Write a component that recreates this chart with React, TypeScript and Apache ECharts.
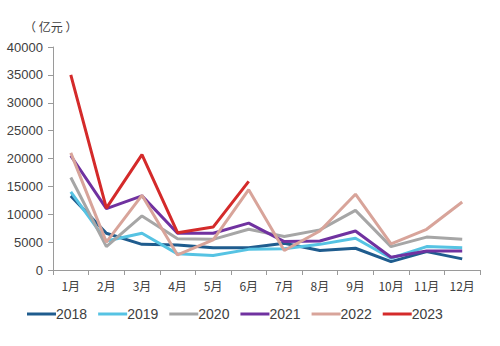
import React, { useEffect, useRef } from "react";
import * as echarts from "echarts";

const months = ["1月", "2月", "3月", "4月", "5月", "6月", "7月", "8月", "9月", "10月", "11月", "12月"];
const yLabelUnit = "（ 亿元 ）";

const s2018 = [13300, 6600, 4600, 4500, 4000, 4000, 4800, 3500, 3900, 1500, 3300, 2000];
const s2019 = [14000, 5200, 6600, 2900, 2600, 3700, 3800, 4600, 5700, 2100, 4200, 4000];
const s2020 = [16600, 4200, 9700, 5600, 5500, 7300, 6000, 7200, 10700, 4200, 5900, 5500];
const s2021 = [20500, 11000, 13300, 6600, 6600, 8400, 5100, 5200, 7000, 2300, 3400, 3400];
const s2022 = [21000, 5000, 13400, 2700, 5400, 14400, 3500, 7000, 13600, 4700, 7300, 12200];
const s2023 = [35000, 11100, 20700, 6700, 7700, 15900];

const seriesNames = ["2018", "2019", "2020", "2021", "2022", "2023"];
const seriesData = [s2018, s2019, s2020, s2021, s2022, s2023];
const colors = ["#1F5C8E", "#56C3E3", "#A6A6A6", "#7032A0", "#D8A49A", "#D42A2A"];

export default function App() {
  const ref = useRef<HTMLDivElement>(null);
  useEffect(() => {
    const chart = echarts.init(ref.current!, null, { renderer: "svg" });
    chart.setOption({
      animation: false,
      backgroundColor: "#ffffff",
      textStyle: { fontFamily: "Liberation Sans, Arial, sans-serif" },
      graphic: [
        {
          type: "text",
          left: 24,
          top: 20,
          style: { text: yLabelUnit, fontSize: 12, fill: "#404040", fontFamily: "Noto Sans CJK SC" },
        },
      ],
      grid: { left: 53, right: 20, top: 47, bottom: 76, containLabel: false },
      legend: {
        top: 302,
        left: 22,
        icon: "rect",
        itemWidth: 29,
        itemHeight: 3,
        itemGap: 11,
        textStyle: { fontSize: 14, color: "#404040", padding: [0, 0, 0, -5] },
        data: seriesNames,
      },
      xAxis: {
        type: "category",
        data: months,
        boundaryGap: true,
        axisLine: { lineStyle: { color: "#9a9a9a" } },
        axisTick: { show: true, length: 5, lineStyle: { color: "#9a9a9a" } },
        axisLabel: { fontSize: 12, color: "#404040", margin: 9, interval: 0, fontFamily: "Noto Sans CJK SC" },
      },
      yAxis: {
        type: "value",
        min: 0,
        max: 40000,
        interval: 5000,
        axisLine: { show: true, lineStyle: { color: "#9a9a9a" } },
        axisTick: { show: true, length: 5, lineStyle: { color: "#9a9a9a" } },
        splitLine: { show: false },
        axisLabel: { fontSize: 13, color: "#404040", margin: 10, formatter: (v: number) => String(v) },
      },
      series: seriesNames.map((n, i) => ({
        name: n,
        type: "line",
        data: seriesData[i],
        symbol: "none",
        showSymbol: false,
        lineStyle: { width: 3, color: colors[i] },
        itemStyle: { color: colors[i] },
        z: i + 2,
      })),
    });
    return () => chart.dispose();
  }, []);
  return <div ref={ref} style={{ width: 500, height: 346, position: "absolute", left: 0, top: 0 }} />;
}
